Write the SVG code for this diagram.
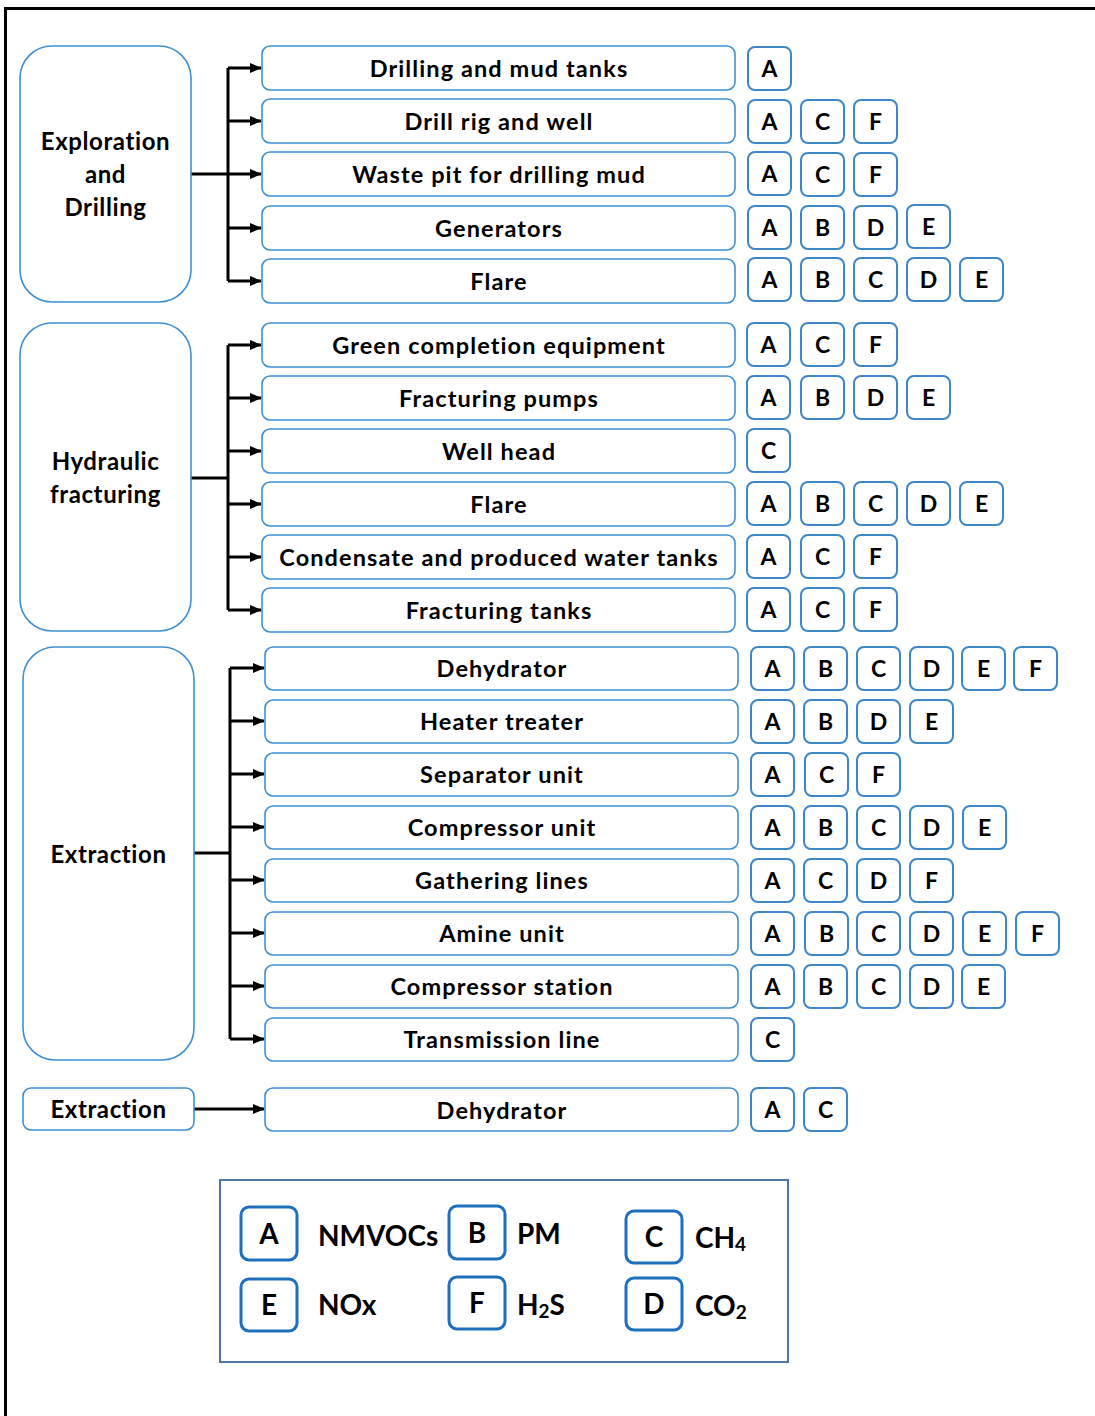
<svg xmlns="http://www.w3.org/2000/svg" width="1095" height="1416" viewBox="0 0 1095 1416">
<defs>
<style>
.grp{fill:#fff;stroke:#3f8fd2;stroke-width:1.6}
.item{fill:#fff;stroke:#3f8fd2;stroke-width:1.6}
.let{fill:#fff;stroke:#3d86c8;stroke-width:2}
.leg{fill:#fff;stroke:#1f6fbf;stroke-width:3}
text{font-family:Lato,"Open Sans","Liberation Sans",sans-serif;font-weight:bold;fill:#000}
.t{font-size:23.5px;text-anchor:middle;letter-spacing:1.1px}
.lt{font-size:23px;text-anchor:middle}
.g{font-size:24px;text-anchor:middle;letter-spacing:0.6px}
.lg{font-size:28px}
.lgl{font-size:28px;text-anchor:middle}
.con{fill:none;stroke:#000;stroke-width:3}
</style>
<marker id="ah" markerUnits="userSpaceOnUse" markerWidth="12" markerHeight="12" viewBox="0 0 12 12" refX="11" refY="6" orient="auto">
<path d="M0,1 L12,6 L0,11 Z" fill="#000"/>
</marker>
</defs>
<rect width="1095" height="1416" fill="#fff"/>
<path d="M5.5,1416 V8.5 H1095" fill="none" stroke="#000" stroke-width="3"/>

<g id="connectors">
<path class="con" d="M191,174 H228 M228,68 V281"/>
<line class="con" x1="228" y1="68" x2="261" y2="68" marker-end="url(#ah)"/>
<line class="con" x1="228" y1="121" x2="261" y2="121" marker-end="url(#ah)"/>
<line class="con" x1="228" y1="174" x2="261" y2="174" marker-end="url(#ah)"/>
<line class="con" x1="228" y1="228" x2="261" y2="228" marker-end="url(#ah)"/>
<line class="con" x1="228" y1="281" x2="261" y2="281" marker-end="url(#ah)"/>
<path class="con" d="M191,478 H228 M228,345 V610"/>
<line class="con" x1="228" y1="345" x2="261" y2="345" marker-end="url(#ah)"/>
<line class="con" x1="228" y1="398" x2="261" y2="398" marker-end="url(#ah)"/>
<line class="con" x1="228" y1="451" x2="261" y2="451" marker-end="url(#ah)"/>
<line class="con" x1="228" y1="504" x2="261" y2="504" marker-end="url(#ah)"/>
<line class="con" x1="228" y1="557" x2="261" y2="557" marker-end="url(#ah)"/>
<line class="con" x1="228" y1="610" x2="261" y2="610" marker-end="url(#ah)"/>
<path class="con" d="M194,853 H230 M230,668 V1039"/>
<line class="con" x1="230" y1="668" x2="264" y2="668" marker-end="url(#ah)"/>
<line class="con" x1="230" y1="721" x2="264" y2="721" marker-end="url(#ah)"/>
<line class="con" x1="230" y1="774" x2="264" y2="774" marker-end="url(#ah)"/>
<line class="con" x1="230" y1="827" x2="264" y2="827" marker-end="url(#ah)"/>
<line class="con" x1="230" y1="880" x2="264" y2="880" marker-end="url(#ah)"/>
<line class="con" x1="230" y1="933" x2="264" y2="933" marker-end="url(#ah)"/>
<line class="con" x1="230" y1="986" x2="264" y2="986" marker-end="url(#ah)"/>
<line class="con" x1="230" y1="1039" x2="264" y2="1039" marker-end="url(#ah)"/>
<line class="con" x1="194" y1="1109" x2="264" y2="1109" marker-end="url(#ah)"/>
</g>

<g id="grp-exploration">
<rect class="grp" x="20" y="46" width="171" height="256" rx="32"/>
<text class="g" x="105.5" y="150">Exploration</text>
<text class="g" x="105.5" y="183">and</text>
<text class="g" x="105.5" y="216">Drilling</text>
</g>
<g id="grp-hydraulic">
<rect class="grp" x="20" y="323" width="171" height="308" rx="32"/>
<text class="g" x="105.5" y="470">Hydraulic</text>
<text class="g" x="105.5" y="503">fracturing</text>
</g>
<g id="grp-extraction">
<rect class="grp" x="23" y="647" width="171" height="413" rx="32"/>
<text class="g" x="108.5" y="863">Extraction</text>
</g>
<g id="grp-extraction2">
<rect class="grp" x="23" y="1088" width="171" height="42" rx="8"/>
<text class="g" x="108.5" y="1118">Extraction</text>
</g>

<g id="n-drilling-mud-tanks"><rect class="item" x="262" y="46" width="473" height="44" rx="8"/><text class="t" x="499" y="77">Drilling and mud tanks</text></g>
<g id="n-drill-rig"><rect class="item" x="262" y="99" width="473" height="44" rx="8"/><text class="t" x="499" y="130">Drill rig and well</text></g>
<g id="n-waste-pit"><rect class="item" x="262" y="152" width="473" height="44" rx="8"/><text class="t" x="499" y="183">Waste pit for drilling mud</text></g>
<g id="n-generators"><rect class="item" x="262" y="206" width="473" height="44" rx="8"/><text class="t" x="499" y="237">Generators</text></g>
<g id="n-flare1"><rect class="item" x="262" y="259" width="473" height="44" rx="8"/><text class="t" x="499" y="290">Flare</text></g>

<g id="n-green"><rect class="item" x="262" y="323" width="473" height="44" rx="8"/><text class="t" x="499" y="354">Green completion equipment</text></g>
<g id="n-frac-pumps"><rect class="item" x="262" y="376" width="473" height="44" rx="8"/><text class="t" x="499" y="407">Fracturing pumps</text></g>
<g id="n-wellhead"><rect class="item" x="262" y="429" width="473" height="44" rx="8"/><text class="t" x="499" y="460">Well head</text></g>
<g id="n-flare2"><rect class="item" x="262" y="482" width="473" height="44" rx="8"/><text class="t" x="499" y="513">Flare</text></g>
<g id="n-condensate"><rect class="item" x="262" y="535" width="473" height="44" rx="8"/><text class="t" x="499" y="566">Condensate and produced water tanks</text></g>
<g id="n-frac-tanks"><rect class="item" x="262" y="588" width="473" height="44" rx="8"/><text class="t" x="499" y="619">Fracturing tanks</text></g>

<g id="n-dehydrator"><rect class="item" x="265" y="647" width="473" height="43" rx="8"/><text class="t" x="502" y="677">Dehydrator</text></g>
<g id="n-heater"><rect class="item" x="265" y="700" width="473" height="43" rx="8"/><text class="t" x="502" y="730">Heater treater</text></g>
<g id="n-separator"><rect class="item" x="265" y="753" width="473" height="43" rx="8"/><text class="t" x="502" y="783">Separator unit</text></g>
<g id="n-compressor-unit"><rect class="item" x="265" y="806" width="473" height="43" rx="8"/><text class="t" x="502" y="836">Compressor unit</text></g>
<g id="n-gathering"><rect class="item" x="265" y="859" width="473" height="43" rx="8"/><text class="t" x="502" y="889">Gathering lines</text></g>
<g id="n-amine"><rect class="item" x="265" y="912" width="473" height="43" rx="8"/><text class="t" x="502" y="942">Amine unit</text></g>
<g id="n-compressor-station"><rect class="item" x="265" y="965" width="473" height="43" rx="8"/><text class="t" x="502" y="995">Compressor station</text></g>
<g id="n-transmission"><rect class="item" x="265" y="1018" width="473" height="43" rx="8"/><text class="t" x="502" y="1048">Transmission line</text></g>
<g id="n-dehydrator2"><rect class="item" x="265" y="1088" width="473" height="43" rx="8"/><text class="t" x="502" y="1119">Dehydrator</text></g>

<g id="letters">
<rect class="let" x="748" y="47" width="43" height="43" rx="7"/><text class="lt" x="769.5" y="77">A</text>
<rect class="let" x="748" y="100" width="43" height="43" rx="7"/><text class="lt" x="769.5" y="130">A</text>
<rect class="let" x="801" y="100" width="43" height="43" rx="7"/><text class="lt" x="822.5" y="130">C</text>
<rect class="let" x="854" y="100" width="43" height="43" rx="7"/><text class="lt" x="875.5" y="130">F</text>
<rect class="let" x="748" y="152" width="43" height="43" rx="7"/><text class="lt" x="769.5" y="182">A</text>
<rect class="let" x="801" y="153" width="43" height="43" rx="7"/><text class="lt" x="822.5" y="183">C</text>
<rect class="let" x="854" y="153" width="43" height="43" rx="7"/><text class="lt" x="875.5" y="183">F</text>
<rect class="let" x="748" y="206" width="43" height="43" rx="7"/><text class="lt" x="769.5" y="236">A</text>
<rect class="let" x="801" y="206" width="43" height="43" rx="7"/><text class="lt" x="822.5" y="236">B</text>
<rect class="let" x="854" y="206" width="43" height="43" rx="7"/><text class="lt" x="875.5" y="236">D</text>
<rect class="let" x="907" y="205" width="43" height="43" rx="7"/><text class="lt" x="928.5" y="235">E</text>
<rect class="let" x="748" y="258" width="43" height="43" rx="7"/><text class="lt" x="769.5" y="288">A</text>
<rect class="let" x="801" y="258" width="43" height="43" rx="7"/><text class="lt" x="822.5" y="288">B</text>
<rect class="let" x="854" y="258" width="43" height="43" rx="7"/><text class="lt" x="875.5" y="288">C</text>
<rect class="let" x="907" y="258" width="43" height="43" rx="7"/><text class="lt" x="928.5" y="288">D</text>
<rect class="let" x="960" y="258" width="43" height="43" rx="7"/><text class="lt" x="981.5" y="288">E</text>

<rect class="let" x="747" y="323" width="43" height="43" rx="7"/><text class="lt" x="768.5" y="353">A</text>
<rect class="let" x="801" y="323" width="43" height="43" rx="7"/><text class="lt" x="822.5" y="353">C</text>
<rect class="let" x="854" y="323" width="43" height="43" rx="7"/><text class="lt" x="875.5" y="353">F</text>
<rect class="let" x="747" y="376" width="43" height="43" rx="7"/><text class="lt" x="768.5" y="406">A</text>
<rect class="let" x="801" y="376" width="43" height="43" rx="7"/><text class="lt" x="822.5" y="406">B</text>
<rect class="let" x="854" y="376" width="43" height="43" rx="7"/><text class="lt" x="875.5" y="406">D</text>
<rect class="let" x="907" y="376" width="43" height="43" rx="7"/><text class="lt" x="928.5" y="406">E</text>
<rect class="let" x="747" y="429" width="43" height="43" rx="7"/><text class="lt" x="768.5" y="459">C</text>
<rect class="let" x="747" y="482" width="43" height="43" rx="7"/><text class="lt" x="768.5" y="512">A</text>
<rect class="let" x="801" y="482" width="43" height="43" rx="7"/><text class="lt" x="822.5" y="512">B</text>
<rect class="let" x="854" y="482" width="43" height="43" rx="7"/><text class="lt" x="875.5" y="512">C</text>
<rect class="let" x="907" y="482" width="43" height="43" rx="7"/><text class="lt" x="928.5" y="512">D</text>
<rect class="let" x="960" y="482" width="43" height="43" rx="7"/><text class="lt" x="981.5" y="512">E</text>
<rect class="let" x="747" y="535" width="43" height="43" rx="7"/><text class="lt" x="768.5" y="565">A</text>
<rect class="let" x="801" y="535" width="43" height="43" rx="7"/><text class="lt" x="822.5" y="565">C</text>
<rect class="let" x="854" y="535" width="43" height="43" rx="7"/><text class="lt" x="875.5" y="565">F</text>
<rect class="let" x="747" y="588" width="43" height="43" rx="7"/><text class="lt" x="768.5" y="618">A</text>
<rect class="let" x="801" y="588" width="43" height="43" rx="7"/><text class="lt" x="822.5" y="618">C</text>
<rect class="let" x="854" y="588" width="43" height="43" rx="7"/><text class="lt" x="875.5" y="618">F</text>

<rect class="let" x="751" y="647" width="43" height="43" rx="7"/><text class="lt" x="772.5" y="677">A</text>
<rect class="let" x="804" y="647" width="43" height="43" rx="7"/><text class="lt" x="825.5" y="677">B</text>
<rect class="let" x="857" y="647" width="43" height="43" rx="7"/><text class="lt" x="878.5" y="677">C</text>
<rect class="let" x="910" y="647" width="43" height="43" rx="7"/><text class="lt" x="931.5" y="677">D</text>
<rect class="let" x="962" y="647" width="43" height="43" rx="7"/><text class="lt" x="983.5" y="677">E</text>
<rect class="let" x="1014" y="647" width="43" height="43" rx="7"/><text class="lt" x="1035.5" y="677">F</text>
<rect class="let" x="751" y="700" width="43" height="43" rx="7"/><text class="lt" x="772.5" y="730">A</text>
<rect class="let" x="804" y="700" width="43" height="43" rx="7"/><text class="lt" x="825.5" y="730">B</text>
<rect class="let" x="857" y="700" width="43" height="43" rx="7"/><text class="lt" x="878.5" y="730">D</text>
<rect class="let" x="910" y="700" width="43" height="43" rx="7"/><text class="lt" x="931.5" y="730">E</text>
<rect class="let" x="751" y="753" width="43" height="43" rx="7"/><text class="lt" x="772.5" y="783">A</text>
<rect class="let" x="805" y="753" width="43" height="43" rx="7"/><text class="lt" x="826.5" y="783">C</text>
<rect class="let" x="857" y="753" width="43" height="43" rx="7"/><text class="lt" x="878.5" y="783">F</text>
<rect class="let" x="751" y="806" width="43" height="43" rx="7"/><text class="lt" x="772.5" y="836">A</text>
<rect class="let" x="804" y="806" width="43" height="43" rx="7"/><text class="lt" x="825.5" y="836">B</text>
<rect class="let" x="857" y="806" width="43" height="43" rx="7"/><text class="lt" x="878.5" y="836">C</text>
<rect class="let" x="910" y="806" width="43" height="43" rx="7"/><text class="lt" x="931.5" y="836">D</text>
<rect class="let" x="963" y="806" width="43" height="43" rx="7"/><text class="lt" x="984.5" y="836">E</text>
<rect class="let" x="751" y="859" width="43" height="43" rx="7"/><text class="lt" x="772.5" y="889">A</text>
<rect class="let" x="804" y="859" width="43" height="43" rx="7"/><text class="lt" x="825.5" y="889">C</text>
<rect class="let" x="857" y="859" width="43" height="43" rx="7"/><text class="lt" x="878.5" y="889">D</text>
<rect class="let" x="910" y="859" width="43" height="43" rx="7"/><text class="lt" x="931.5" y="889">F</text>
<rect class="let" x="751" y="912" width="43" height="43" rx="7"/><text class="lt" x="772.5" y="942">A</text>
<rect class="let" x="805" y="912" width="43" height="43" rx="7"/><text class="lt" x="826.5" y="942">B</text>
<rect class="let" x="857" y="912" width="43" height="43" rx="7"/><text class="lt" x="878.5" y="942">C</text>
<rect class="let" x="910" y="912" width="43" height="43" rx="7"/><text class="lt" x="931.5" y="942">D</text>
<rect class="let" x="963" y="912" width="43" height="43" rx="7"/><text class="lt" x="984.5" y="942">E</text>
<rect class="let" x="1016" y="912" width="43" height="43" rx="7"/><text class="lt" x="1037.5" y="942">F</text>
<rect class="let" x="751" y="965" width="43" height="43" rx="7"/><text class="lt" x="772.5" y="995">A</text>
<rect class="let" x="804" y="965" width="43" height="43" rx="7"/><text class="lt" x="825.5" y="995">B</text>
<rect class="let" x="857" y="965" width="43" height="43" rx="7"/><text class="lt" x="878.5" y="995">C</text>
<rect class="let" x="910" y="965" width="43" height="43" rx="7"/><text class="lt" x="931.5" y="995">D</text>
<rect class="let" x="962" y="965" width="43" height="43" rx="7"/><text class="lt" x="983.5" y="995">E</text>
<rect class="let" x="751" y="1018" width="43" height="43" rx="7"/><text class="lt" x="772.5" y="1048">C</text>
<rect class="let" x="751" y="1088" width="43" height="43" rx="7"/><text class="lt" x="772.5" y="1118">A</text>
<rect class="let" x="804" y="1088" width="43" height="43" rx="7"/><text class="lt" x="825.5" y="1118">C</text>
</g>

<g id="legend">
<rect x="220" y="1180" width="568" height="182" fill="#fff" stroke="#4f76a6" stroke-width="2"/>
<rect class="leg" x="241" y="1207" width="56" height="53" rx="8"/><text class="lgl" x="269" y="1244">A</text>
<text class="lg" x="318" y="1246">NMVOCs</text>
<rect class="leg" x="449" y="1206" width="56" height="53" rx="8"/><text class="lgl" x="477" y="1243">B</text>
<text class="lg" x="517" y="1244">PM</text>
<rect class="leg" x="626" y="1211" width="56" height="52" rx="8"/><text class="lgl" x="654" y="1247">C</text>
<text class="lg" x="695" y="1248">CH<tspan font-size="19" dy="3">4</tspan></text>
<rect class="leg" x="241" y="1279" width="56" height="52" rx="8"/><text class="lgl" x="269" y="1315">E</text>
<text class="lg" x="318" y="1315">NOx</text>
<rect class="leg" x="449" y="1277" width="56" height="52" rx="8"/><text class="lgl" x="477" y="1313">F</text>
<text class="lg" x="517" y="1315">H<tspan font-size="19" dy="3">2</tspan><tspan dy="-3">S</tspan></text>
<rect class="leg" x="626" y="1278" width="56" height="52" rx="8"/><text class="lgl" x="654" y="1314">D</text>
<text class="lg" x="695" y="1316">CO<tspan font-size="19" dy="3">2</tspan></text>
</g>
</svg>
